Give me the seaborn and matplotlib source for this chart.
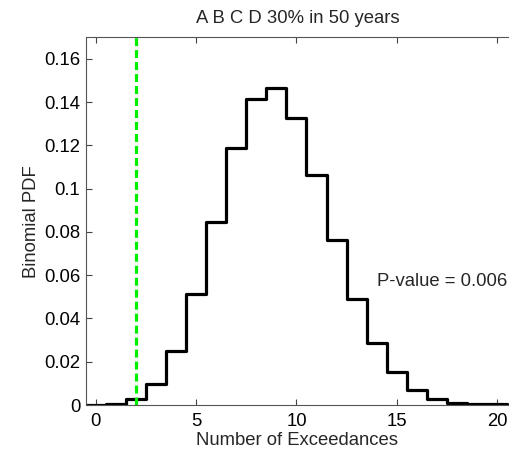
import numpy as np
import pandas as pd
import matplotlib
matplotlib.use("Agg")
import matplotlib.pyplot as plt
import seaborn as sns

# Binomial probability of each number of exceedances
counts = list(range(0, 22))
pdf = [0.0000, 0.0005, 0.0026, 0.0095, 0.0251, 0.0512, 0.0846, 0.1187,
       0.1415, 0.1464, 0.1328, 0.1065, 0.0761, 0.0492, 0.0285, 0.0151,
       0.0069, 0.0028, 0.0011, 0.0004, 0.0003, 0.0001]
observed = 2
p_value_text = "P-value = 0.006"
title = "A B C D 30% in 50 years"
yticks = [0, 0.02, 0.04, 0.06, 0.08, 0.1, 0.12, 0.14, 0.16]
ytick_labels = ["0", "0.02", "0.04", "0.06", "0.08", "0.1", "0.12", "0.14", "0.16"]
xticks = [0, 5, 10, 15, 20]

sns.set_theme(style="white")
plt.rcParams["font.family"] = ["Liberation Sans", "DejaVu Sans"]
FS = 13.3

# stairs centred on each integer count
edges = np.append(np.array(counts) - 0.5, counts[-1] + 0.5)
heights = np.append(pdf, pdf[-1])
df = pd.DataFrame({"edge": edges, "pdf": heights})

fig = plt.figure(figsize=(5.09, 4.54), dpi=100)
ax = fig.add_axes([0.1684, 0.1079, 1.0 - 0.1684, 0.81])

sns.lineplot(data=df, x="edge", y="pdf", drawstyle="steps-post",
             color="black", linewidth=2.3, ax=ax, sort=False)
ax.axvline(observed, color="#00ee00", linewidth=2.3, linestyle="--",
           dashes=(2.5, 1.25))

ax.set_xlim(-0.5, 20.59)
ax.set_ylim(0, 0.17)
ax.set_xticks(xticks)
ax.set_xticklabels([str(t) for t in xticks])
ax.set_yticks(yticks)
ax.set_yticklabels(ytick_labels)
ax.tick_params(direction="in", length=4, width=0.8, colors="#444444",
               labelcolor="black", labelsize=FS, top=True, bottom=True,
               left=True, right=False)
ax.tick_params(axis="x", pad=6)
ax.tick_params(axis="y", pad=4)

for side in ["left", "top", "bottom"]:
    ax.spines[side].set_color("#555555")
    ax.spines[side].set_linewidth(0.8)
ax.spines["right"].set_visible(False)

ax.text(14.0, 0.057, p_value_text, fontsize=FS, ha="left", va="center")
ax.set_title(title, fontsize=FS, pad=10)
ax.set_xlabel("Number of Exceedances", fontsize=FS, labelpad=1)
ax.set_ylabel("Binomial PDF", fontsize=FS, labelpad=3)

fig.savefig("out.png", dpi=100)
